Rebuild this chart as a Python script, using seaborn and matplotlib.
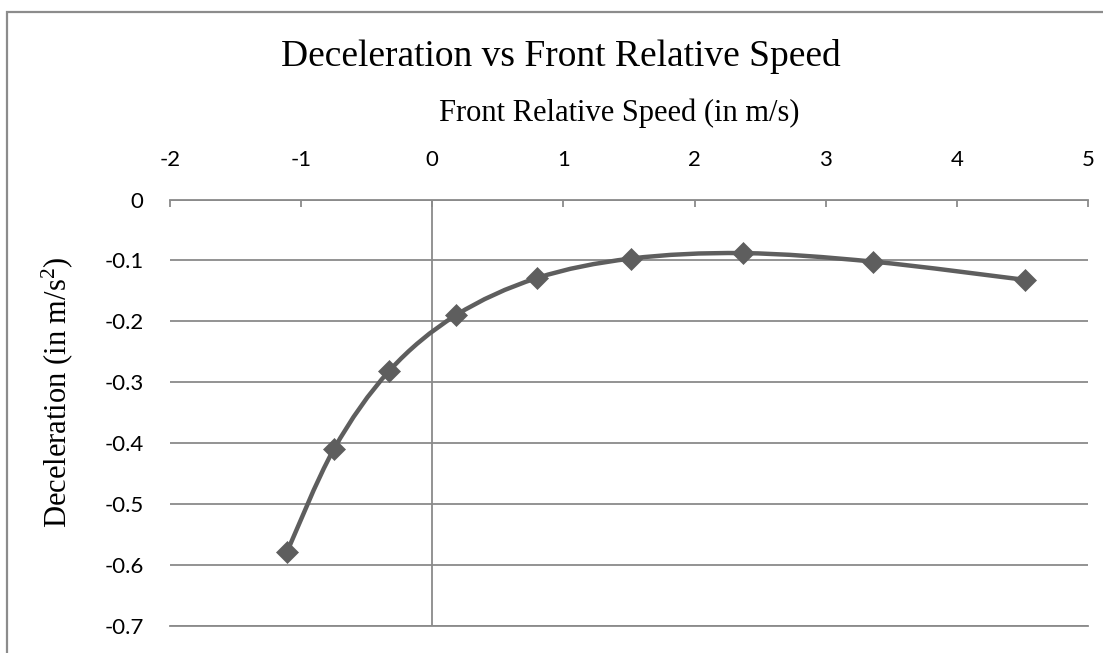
import numpy as np
import pandas as pd
import matplotlib
matplotlib.use("Agg")
import matplotlib.pyplot as plt
import seaborn as sns
from matplotlib.path import Path
from matplotlib.patches import PathPatch, Rectangle

# ---- data ----
speed = [-1.107, -0.751, -0.327, 0.180, 0.797, 1.514, 2.369, 3.363, 4.523]
decel = [-0.578, -0.410, -0.281, -0.190, -0.129, -0.097, -0.088, -0.102, -0.132]
x_ticks = [-2, -1, 0, 1, 2, 3, 4, 5]
y_ticks = [0, -0.1, -0.2, -0.3, -0.4, -0.5, -0.6, -0.7]
title = "Deceleration vs Front Relative Speed"
x_label = "Front Relative Speed (in m/s)"
y_label = r"Deceleration (in m/s$\mathregular{^2}$)"

df = pd.DataFrame({"speed": speed, "decel": decel})

sns.set_theme(style="white")
plt.rcParams["font.family"] = ["Lato", "DejaVu Sans"]
plt.rcParams["mathtext.fontset"] = "custom"
plt.rcParams["mathtext.rm"] = "Liberation Serif"

W, H = 1103, 653
fig = plt.figure(figsize=(W / 100, H / 100), dpi=100)
left, right, top, bottom = 170, 1088, 199.5, 626
ax = fig.add_axes([left / W, 1 - bottom / H, (right - left) / W, (bottom - top) / H])

grid_c = "#8a8a8a"
line_c = "#5e5e5e"

# smoothed line (Bezier through the data points, Excel-like smoothing)
P = df[["speed", "decel"]].to_numpy()
n = len(P)
verts = [P[0]]
codes = [Path.MOVETO]
for i in range(n - 1):
    p0 = P[i - 1] if i > 0 else P[i]
    p3 = P[i + 2] if i + 2 < n else P[i + 1]
    c1 = P[i] + (P[i + 1] - p0) / 6.0
    c2 = P[i + 1] - (p3 - P[i]) / 6.0
    verts += [c1, c2, P[i + 1]]
    codes += [Path.CURVE4] * 3
ax.add_patch(PathPatch(Path(verts, codes), facecolor="none", edgecolor=line_c,
                       lw=3.2, zorder=3, capstyle="round", joinstyle="round"))

sns.scatterplot(data=df, x="speed", y="decel", marker="D", s=125,
                color=line_c, edgecolor=line_c, linewidth=0.5, zorder=4, ax=ax)

ax.set_xlim(-2, 5)
ax.set_ylim(-0.7, 0)
ax.set_xticks(x_ticks)
ax.set_yticks(y_ticks)
ax.set_xticklabels([str(v) for v in x_ticks])
ax.set_yticklabels(["0"] + [f"{v:.1f}" for v in y_ticks[1:]])

ax.xaxis.tick_top()
ax.xaxis.set_label_position("top")
ax.tick_params(axis="x", direction="in", length=5, width=1.3, color=grid_c,
               labelsize=16, pad=21, labelcolor="black")
ax.tick_params(axis="y", length=0, labelsize=16, pad=19, labelcolor="black")

for s in ["left", "right"]:
    ax.spines[s].set_visible(False)
for s in ["top", "bottom"]:
    ax.spines[s].set_visible(True)
    ax.spines[s].set_color(grid_c)
    ax.spines[s].set_linewidth(1.3)

ax.yaxis.grid(True, color=grid_c, lw=1.3)
ax.xaxis.grid(False)
ax.axvline(0, color=grid_c, lw=1.3, zorder=1)

ax.set_xlabel(x_label, family="Liberation Serif", fontsize=22, color="black")
ax.xaxis.set_label_coords((619 - left) / (right - left), (bottom - 113) / (bottom - top))
ax.xaxis.label.set_va("center")

ax.set_ylabel(y_label, family="Liberation Serif", fontsize=22, color="black")
ax.yaxis.set_label_coords((57 - left) / (right - left), (bottom - 392) / (bottom - top))
ax.yaxis.label.set_va("center")
ax.yaxis.label.set_ha("center")

fig.text(561 / W, 1 - 57 / H, title, family="Liberation Serif", fontsize=27,
         ha="center", va="center", color="black")

fig.add_artist(Rectangle((7.0 / W, -0.1), 2.0, (1 - 11.5 / H) + 0.1,
                         transform=fig.transFigure, fill=False,
                         edgecolor="#8c8c8c", lw=1.6))

fig.savefig("out.png", dpi=100)
